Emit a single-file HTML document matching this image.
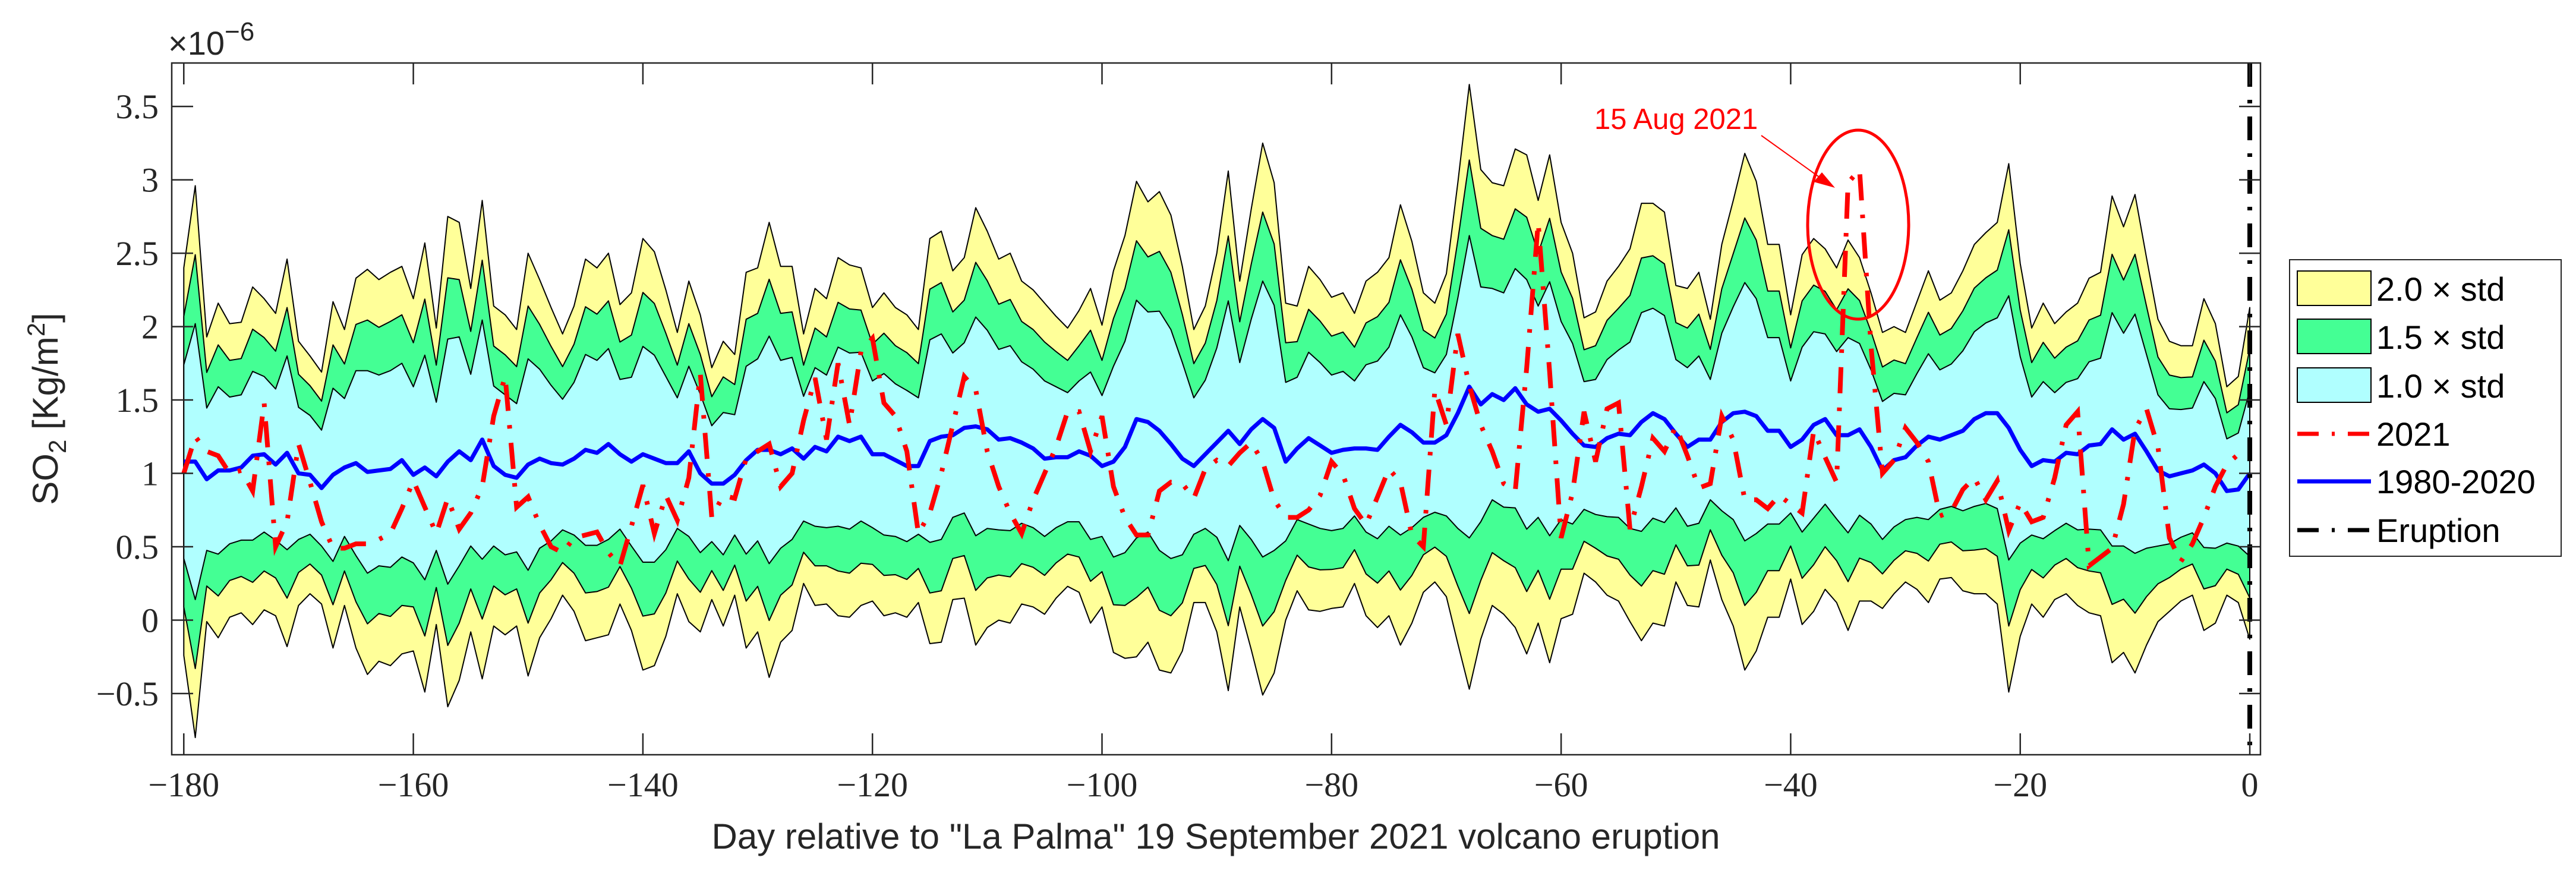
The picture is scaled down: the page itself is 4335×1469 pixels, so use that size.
<!DOCTYPE html>
<html><head><meta charset="utf-8"><style>
html,body{margin:0;padding:0;background:#fff;}
svg{display:block;}
text{font-family:"Liberation Sans",sans-serif;}
.tk{font-family:"Liberation Serif",serif;font-size:58px;fill:#262626;}
</style></head><body>
<svg id="chart" width="4335" height="1469" viewBox="0 0 4335 1469" xmlns="http://www.w3.org/2000/svg">
<g id="plot"></g>
<g id="axes"></g>
<text x="283" y="92" font-size="56" fill="#262626">×10<tspan dy="-24" font-size="44">−6</tspan></text>
<text transform="translate(97,688) rotate(-90)" text-anchor="middle" font-size="60" fill="#262626">SO<tspan dy="14" font-size="42">2</tspan><tspan dy="-14"> [Kg/m</tspan><tspan dy="-22" font-size="42">2</tspan><tspan dy="22">]</tspan></text>
<text x="2046" y="1428" text-anchor="middle" font-size="60" fill="#262626">Day relative to "La Palma" 19 September 2021 volcano eruption</text>
<g>
<text x="2683" y="217" font-size="49" fill="#ff0000">15 Aug 2021</text>
<line x1="2964" y1="228" x2="3070" y2="304" stroke="#ff0000" stroke-width="2"/>
<polygon points="3088,316 3052,306 3066,290" fill="#ff0000"/>
<ellipse cx="3127" cy="378" rx="85" ry="159" fill="none" stroke="#ff0000" stroke-width="5"/>
</g>
<g>
<rect x="3853" y="437" width="457" height="499" fill="#fff" stroke="#262626" stroke-width="2"/>
<rect x="3866" y="456" width="124" height="58" fill="#ffff99" stroke="#000" stroke-width="2"/>
<text x="3999" y="506" font-size="56">2.0 × std</text>
<rect x="3866" y="537" width="124" height="58" fill="#44ff94" stroke="#000" stroke-width="2"/>
<text x="3999" y="587" font-size="56">1.5 × std</text>
<rect x="3866" y="619" width="124" height="58" fill="#b0ffff" stroke="#000" stroke-width="2"/>
<text x="3999" y="669" font-size="56">1.0 × std</text>
<line x1="3866" y1="730" x2="3990" y2="730" stroke="#ff0000" stroke-width="7" stroke-dasharray="36,22,5,22"/>
<text x="3999" y="750" font-size="56">2021</text>
<line x1="3866" y1="810" x2="3990" y2="810" stroke="#0000ff" stroke-width="7"/>
<text x="3999" y="830" font-size="56">1980-2020</text>
<line x1="3866" y1="892" x2="3990" y2="892" stroke="#000" stroke-width="7" stroke-dasharray="36,22,5,22"/>
<text x="3999" y="912" font-size="56">Eruption</text>
</g>
</svg>
<script>
const meanSeries=[1.08,1.08,0.96,1.02,1.02,1.04,1.12,1.13,1.06,1.14,1.00,0.99,0.90,0.99,1.04,1.07,1.01,1.02,1.03,1.09,0.99,1.04,0.98,1.08,1.15,1.09,1.23,1.05,0.99,0.97,1.06,1.10,1.07,1.06,1.10,1.16,1.14,1.20,1.13,1.08,1.13,1.10,1.07,1.07,1.15,1.00,
0.93,0.93,0.99,1.09,1.16,1.16,1.13,1.17,1.10,1.18,1.15,1.25,1.22,1.25,1.13,1.13,1.09,1.05,1.05,1.22,1.25,1.26,1.31,1.32,1.30,1.23,1.24,1.21,1.17,1.10,1.11,1.11,1.15,1.12,1.05,1.08,1.18,1.37,1.35,1.29,1.20,1.10,1.05,1.13,1.21,
1.29,1.20,1.30,1.37,1.31,1.08,1.17,1.24,1.19,1.14,1.16,1.17,1.17,1.16,1.25,1.33,1.28,1.21,1.21,1.26,1.41,1.59,1.47,1.54,1.50,1.58,1.47,1.42,1.44,1.36,1.27,1.19,1.18,1.24,1.27,1.26,1.35,1.41,1.37,1.27,1.18,1.23,1.23,1.35,1.41,1.42,
1.39,1.29,1.29,1.18,1.23,1.33,1.37,1.26,1.26,1.30,1.18,1.02,1.09,1.11,1.19,1.25,1.23,1.26,1.29,1.37,1.41,1.41,1.31,1.16,1.05,1.09,1.08,1.14,1.13,1.19,1.20,1.30,1.23,1.27,1.15,1.02,0.98,1.00,1.02,1.06,1.00,0.88,0.89,1.00];
const upper2std=[2.40,2.96,1.93,2.16,2.02,2.03,2.27,2.19,2.09,2.46,1.90,1.80,1.69,2.17,1.98,2.33,2.39,2.32,2.37,2.41,2.19,2.57,1.99,2.75,2.71,2.26,2.86,2.14,2.08,1.98,2.50,2.32,2.13,1.95,2.14,2.46,2.40,2.50,2.15,2.23,2.60,2.51,2.25,1.96,2.31,2.08,
1.72,1.90,1.81,2.37,2.40,2.71,2.41,2.41,1.95,2.26,2.19,2.47,2.42,2.40,2.13,2.23,2.13,2.08,1.98,2.60,2.65,2.38,2.47,2.81,2.65,2.46,2.50,2.31,2.25,2.16,2.07,1.99,2.11,2.26,2.01,2.38,2.62,2.99,2.85,2.92,2.76,2.41,1.98,2.14,2.50,
3.06,2.31,2.80,3.25,2.98,2.16,2.14,2.41,2.32,2.20,2.23,2.09,2.31,2.37,2.47,2.83,2.58,2.23,2.16,2.36,2.98,3.65,3.07,2.98,2.96,3.21,3.17,2.86,3.17,2.71,2.50,2.06,2.10,2.31,2.41,2.53,2.84,2.84,2.78,2.28,2.26,2.37,2.05,2.56,2.86,3.18,
2.99,2.56,2.56,2.08,2.49,2.60,2.53,2.40,2.59,2.47,2.23,1.96,2.00,1.96,2.17,2.38,2.18,2.23,2.38,2.56,2.64,2.71,3.11,2.43,1.99,2.16,2.02,2.10,2.16,2.33,2.37,2.89,2.68,2.90,2.47,2.05,1.90,1.87,1.87,2.19,2.02,1.59,1.66,2.13];
const series2021=[1.00,1.25,1.15,1.12,1.00,1.02,0.88,1.48,0.50,0.67,1.20,0.94,0.67,0.49,0.49,0.52,0.52,0.55,0.59,0.76,0.95,0.77,0.59,0.83,0.62,0.73,0.91,1.39,1.66,0.77,0.84,0.65,0.50,0.46,0.56,0.58,0.60,0.46,0.37,0.64,0.92,0.59,0.85,0.68,0.97,1.68,
0.70,0.85,0.83,1.10,1.15,1.20,0.91,1.00,1.36,1.65,1.23,1.75,1.33,1.83,1.92,1.48,1.39,1.15,0.59,0.73,1.00,1.33,1.66,1.57,1.15,0.91,0.73,0.59,0.82,1.00,1.18,1.42,1.42,1.15,1.39,0.91,0.70,0.58,0.58,0.88,0.94,0.93,0.83,1.03,1.09,
1.05,1.14,1.21,1.08,0.82,0.70,0.70,0.75,0.85,1.08,0.99,0.76,0.65,0.84,1.03,0.94,0.58,0.50,1.57,1.33,1.95,1.60,1.33,1.15,0.93,0.88,1.72,2.71,1.69,0.56,0.87,1.42,1.08,1.44,1.48,0.62,0.91,1.24,1.15,1.32,1.12,0.90,0.93,1.39,1.23,0.82,
0.82,0.76,0.85,0.79,0.73,1.29,1.11,0.94,2.98,3.07,1.87,1.00,1.09,1.31,1.21,1.08,0.71,0.74,0.89,0.97,0.82,0.95,0.61,0.80,0.67,0.70,0.97,1.33,1.42,0.37,0.43,0.49,0.79,1.30,1.44,1.18,0.56,0.40,0.52,0.70,0.91,1.06,1.13,1.15];
const firstDay=-180;
const eruptionDay=0;
const xTicks=[-180,-160,-140,-120,-100,-80,-60,-40,-20,0];
const yTicks=[-0.5,0,0.5,1,1.5,2,2.5,3,3.5];
const xTickLabels=["−180","−160","−140","−120","−100","−80","−60","−40","−20","0"];
const yTickLabels=["−0.5","0","0.5","1","1.5","2","2.5","3","3.5"];

const L=289,R=3804,T=106,B=1270;
const XMIN=-181.05,XMAX=0.93,YMIN=-0.917,YMAX=3.796;
function xs(d){return L+(d-XMIN)/(XMAX-XMIN)*(R-L);}
function ys(v){return B-(v-YMIN)/(YMAX-YMIN)*(B-T);}
const NS="http://www.w3.org/2000/svg";
const plot=document.getElementById('plot');
const axes=document.getElementById('axes');
function mk(tag,attrs,parent){const e=document.createElementNS(NS,tag);for(const k in attrs)e.setAttribute(k,attrs[k]);parent.appendChild(e);return e;}
const days=meanSeries.map((_,i)=>firstDay+i);
function band(k){
  const up=days.map((d,i)=>xs(d).toFixed(1)+','+ys(meanSeries[i]+k*(upper2std[i]-meanSeries[i])/2).toFixed(1));
  const lo=days.map((d,i)=>xs(d).toFixed(1)+','+ys(meanSeries[i]-k*(upper2std[i]-meanSeries[i])/2).toFixed(1)).reverse();
  return up.concat(lo).join(' ');
}
const bandDefs=[[2,'#ffff99','band-2std'],[1.5,'#44ff94','band-1-5std'],[1,'#b0ffff','band-1std']];
bandDefs.forEach(b=>{
  const p=mk('polygon',{points:band(b[0]),fill:b[1],stroke:'#000','stroke-width':2,'stroke-linejoin':'round'},plot);
  
  
});
const blue=mk('polyline',{points:days.map((d,i)=>xs(d).toFixed(1)+','+ys(meanSeries[i]).toFixed(1)).join(' '),fill:'none',stroke:'#0000ff','stroke-width':7,'stroke-linejoin':'round'},plot);


const red=mk('polyline',{points:days.map((d,i)=>xs(d).toFixed(1)+','+ys(series2021[i]).toFixed(1)).join(' '),fill:'none',stroke:'#ff0000','stroke-width':8,'stroke-dasharray':'44,24,6,24'},plot);


const er=mk('line',{x1:xs(eruptionDay),x2:xs(eruptionDay),y1:T,y2:B,stroke:'#000','stroke-width':8,'stroke-dasharray':'40,22,6,22'},plot);


const frame=mk('rect',{x:L,y:T,width:R-L,height:B-T,fill:'none',stroke:'#262626','stroke-width':2.5},axes);


xTicks.forEach((t,i)=>{
  const x=xs(t);
  mk('line',{x1:x,x2:x,y1:B,y2:B-36,stroke:'#262626','stroke-width':2.5},axes);
  mk('line',{x1:x,x2:x,y1:T,y2:T+36,stroke:'#262626','stroke-width':2.5},axes);
  const tx=mk('text',{x:x,y:1340,'text-anchor':'middle',class:'tk'},axes);
  tx.textContent=xTickLabels[i];
  
  
});
yTicks.forEach((t,i)=>{
  const y=ys(t);
  mk('line',{x1:L,x2:L+36,y1:y,y2:y,stroke:'#262626','stroke-width':2.5},axes);
  mk('line',{x1:R,x2:R-36,y1:y,y2:y,stroke:'#262626','stroke-width':2.5},axes);
  const tx=mk('text',{x:267,y:y+20,'text-anchor':'end',class:'tk'},axes);
  tx.textContent=yTickLabels[i];
  
  
});
</script>
</body></html>
